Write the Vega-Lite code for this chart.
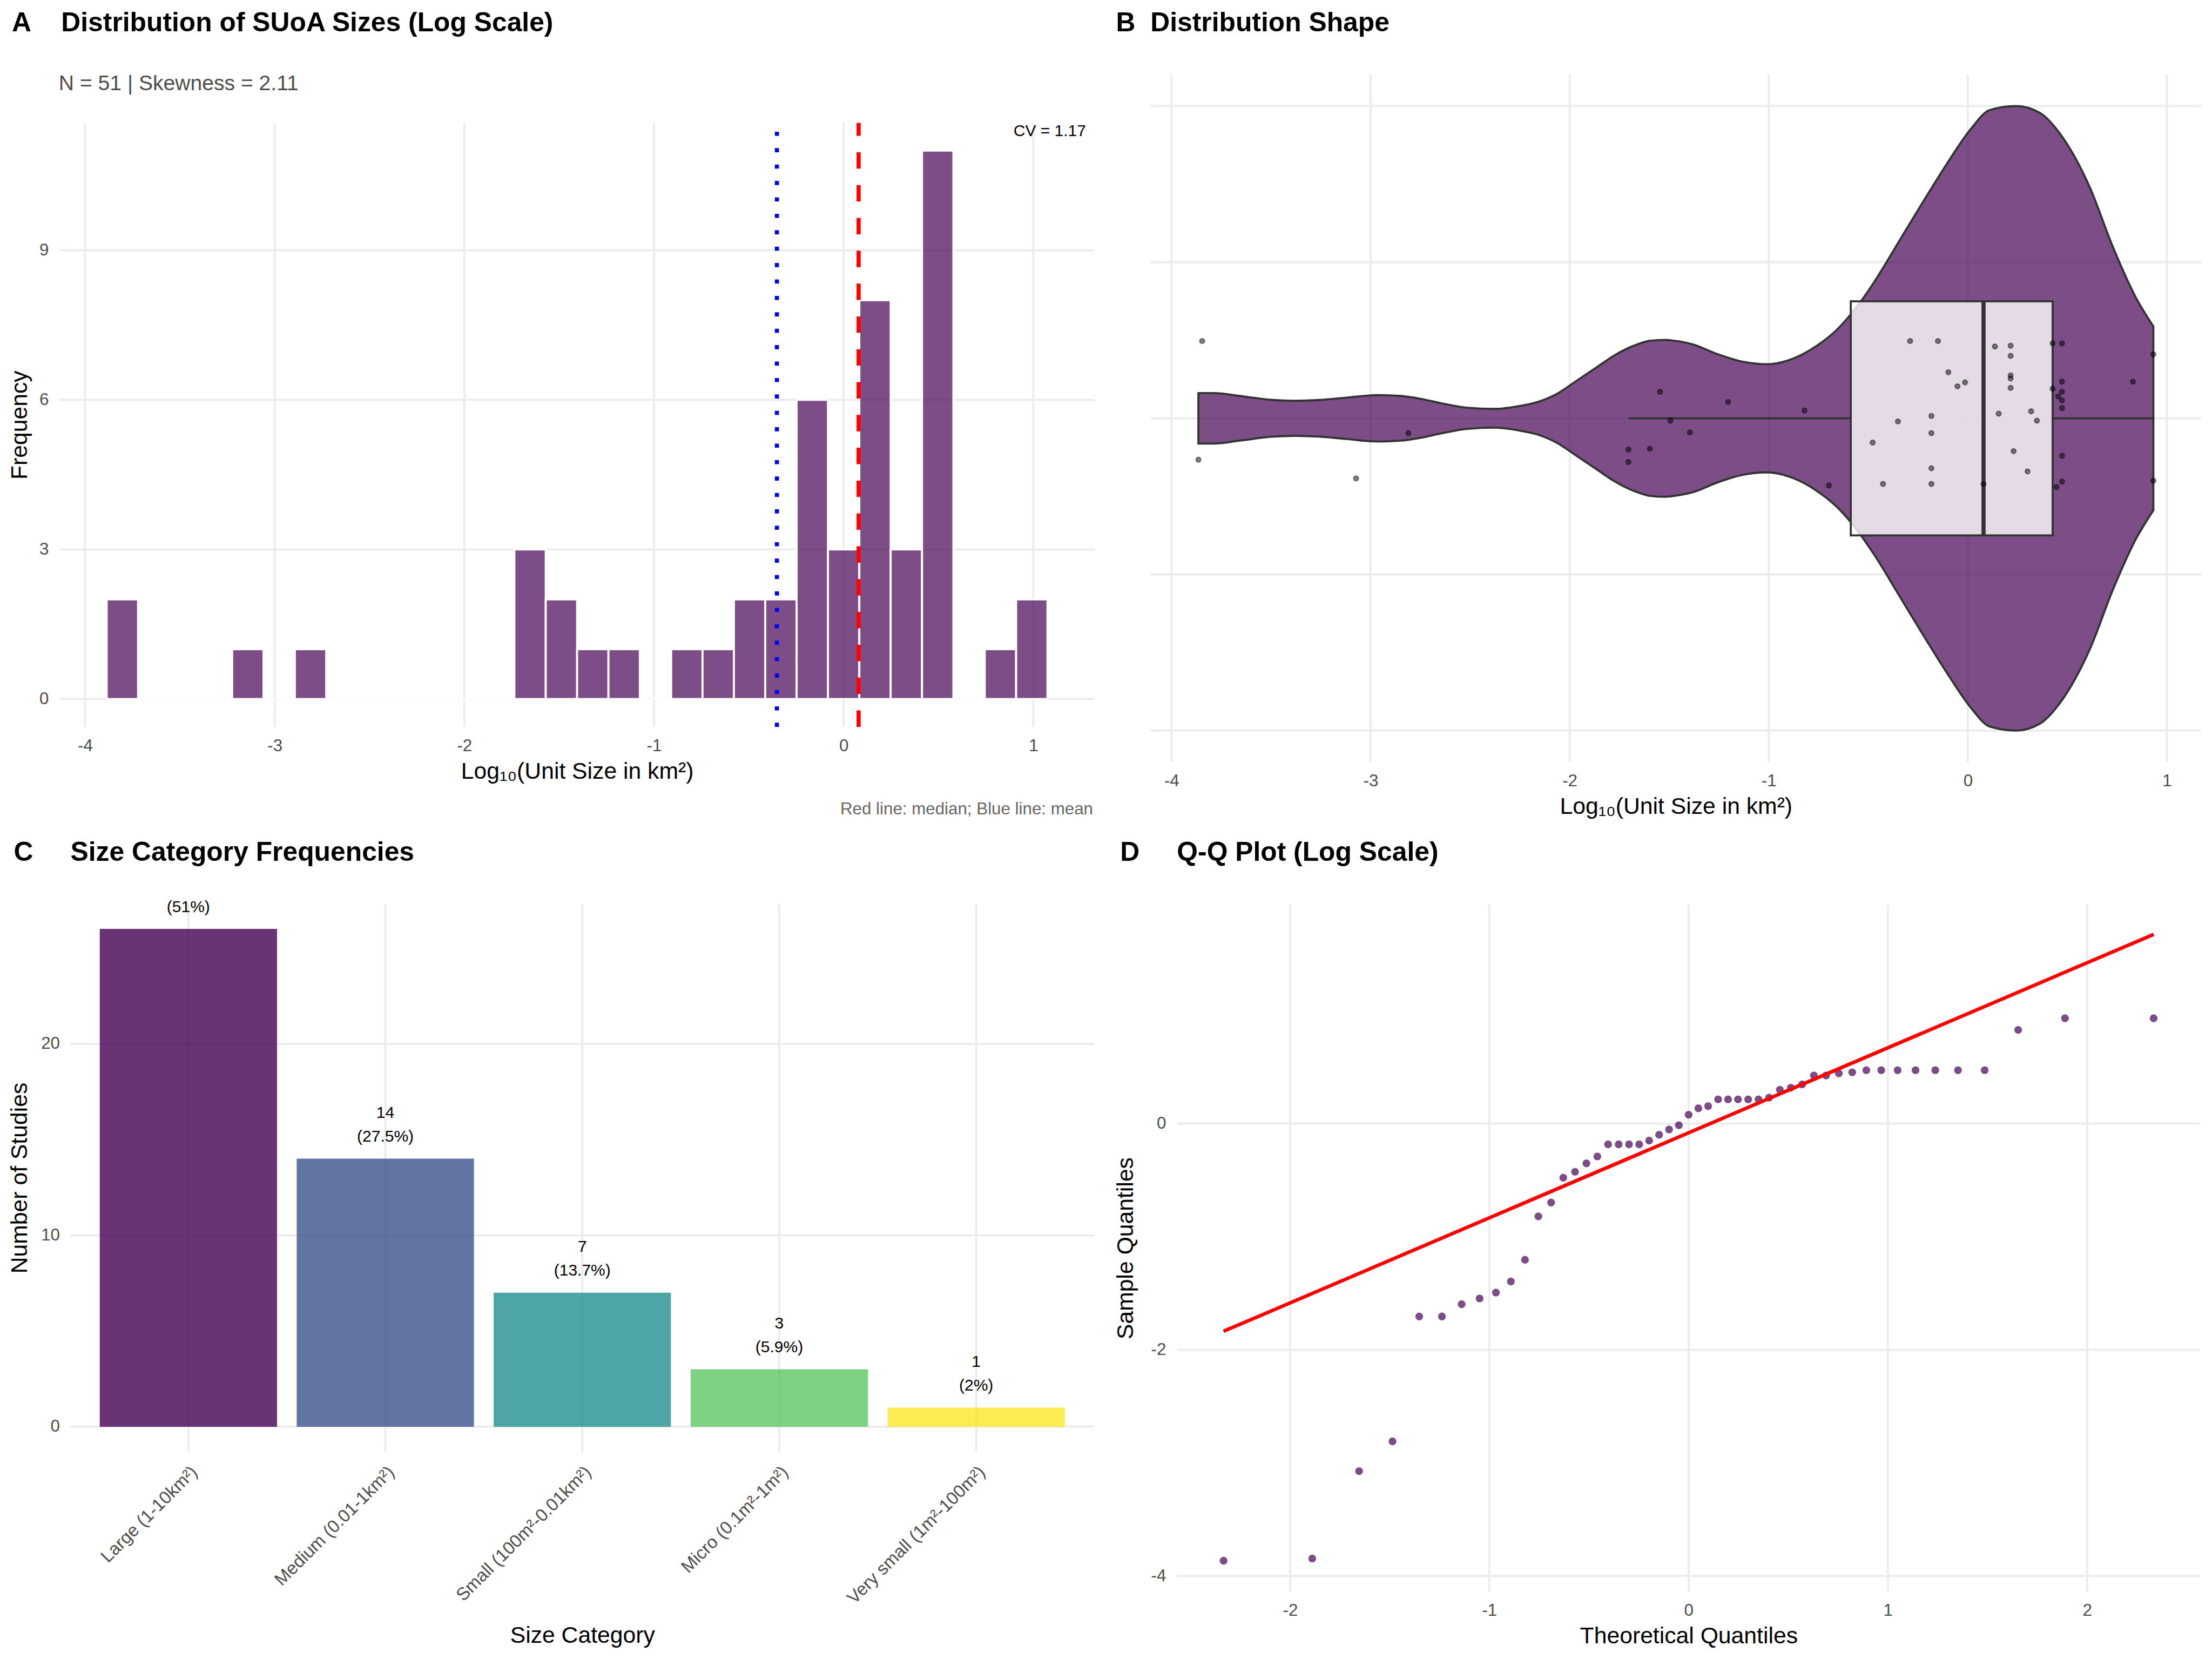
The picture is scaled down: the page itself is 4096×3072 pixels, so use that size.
{
  "$schema": "https://vega.github.io/schema/vega-lite/v6.json",
  "background": "white",
  "padding": 0,
  "datasets": {
    "pts": [
      {"v": -3.865, "t": -2.334, "j": -0.053}, {"v": -3.846, "t": -1.889, "j": 0.099}, {"v": -3.073, "t": -1.654, "j": -0.077},
      {"v": -2.810, "t": -1.486, "j": -0.019}, {"v": -1.705, "t": -1.352, "j": -0.040}, {"v": -1.705, "t": -1.238, "j": -0.056},
      {"v": -1.597, "t": -1.139, "j": -0.039}, {"v": -1.546, "t": -1.049, "j": 0.034}, {"v": -1.494, "t": -0.967, "j": -0.003},
      {"v": -1.396, "t": -0.892, "j": -0.018}, {"v": -1.204, "t": -0.821, "j": 0.021}, {"v": -0.820, "t": -0.754, "j": 0.010},
      {"v": -0.698, "t": -0.690, "j": -0.086}, {"v": -0.478, "t": -0.629, "j": -0.031}, {"v": -0.426, "t": -0.570, "j": -0.084},
      {"v": -0.351, "t": -0.513, "j": -0.004}, {"v": -0.290, "t": -0.458, "j": 0.099}, {"v": -0.183, "t": -0.404, "j": 0.003},
      {"v": -0.183, "t": -0.351, "j": -0.019}, {"v": -0.183, "t": -0.299, "j": -0.064}, {"v": -0.183, "t": -0.248, "j": -0.084},
      {"v": -0.150, "t": -0.198, "j": 0.099}, {"v": -0.098, "t": -0.148, "j": 0.059}, {"v": -0.052, "t": -0.098, "j": 0.041},
      {"v": -0.014, "t": -0.049, "j": 0.046}, {"v": 0.079, "t": 0.000, "j": -0.084}, {"v": 0.136, "t": 0.049, "j": 0.092},
      {"v": 0.155, "t": 0.098, "j": 0.006}, {"v": 0.215, "t": 0.148, "j": 0.093}, {"v": 0.215, "t": 0.198, "j": 0.080},
      {"v": 0.215, "t": 0.248, "j": 0.055}, {"v": 0.215, "t": 0.299, "j": 0.051}, {"v": 0.215, "t": 0.351, "j": 0.039},
      {"v": 0.230, "t": 0.404, "j": -0.042}, {"v": 0.300, "t": 0.458, "j": -0.068}, {"v": 0.318, "t": 0.513, "j": 0.009},
      {"v": 0.347, "t": 0.570, "j": -0.003}, {"v": 0.426, "t": 0.629, "j": 0.096}, {"v": 0.426, "t": 0.690, "j": 0.038},
      {"v": 0.445, "t": 0.754, "j": -0.088}, {"v": 0.454, "t": 0.821, "j": 0.028}, {"v": 0.473, "t": 0.892, "j": 0.096},
      {"v": 0.473, "t": 0.967, "j": 0.047}, {"v": 0.473, "t": 1.049, "j": 0.034}, {"v": 0.473, "t": 1.139, "j": 0.023},
      {"v": 0.473, "t": 1.238, "j": 0.013}, {"v": 0.473, "t": 1.352, "j": -0.048}, {"v": 0.473, "t": 1.486, "j": -0.081},
      {"v": 0.829, "t": 1.654, "j": 0.047}, {"v": 0.932, "t": 1.889, "j": 0.082}, {"v": 0.932, "t": 2.334, "j": -0.080}
    ],
    "hist": [
      {"lo": -3.8856, "hi": -3.7203, "count": 2}, {"lo": -3.7203, "hi": -3.5549, "count": 0}, {"lo": -3.5549, "hi": -3.3896, "count": 0},
      {"lo": -3.3896, "hi": -3.2242, "count": 0}, {"lo": -3.2242, "hi": -3.0589, "count": 1}, {"lo": -3.0589, "hi": -2.8935, "count": 0},
      {"lo": -2.8935, "hi": -2.7282, "count": 1}, {"lo": -2.7282, "hi": -2.5628, "count": 0}, {"lo": -2.5628, "hi": -2.3975, "count": 0},
      {"lo": -2.3975, "hi": -2.2322, "count": 0}, {"lo": -2.2322, "hi": -2.0668, "count": 0}, {"lo": -2.0668, "hi": -1.9015, "count": 0},
      {"lo": -1.9015, "hi": -1.7361, "count": 0}, {"lo": -1.7361, "hi": -1.5708, "count": 3}, {"lo": -1.5708, "hi": -1.4054, "count": 2},
      {"lo": -1.4054, "hi": -1.2401, "count": 1}, {"lo": -1.2401, "hi": -1.0747, "count": 1}, {"lo": -1.0747, "hi": -0.9094, "count": 0},
      {"lo": -0.9094, "hi": -0.7441, "count": 1}, {"lo": -0.7441, "hi": -0.5787, "count": 1}, {"lo": -0.5787, "hi": -0.4134, "count": 2},
      {"lo": -0.4134, "hi": -0.2480, "count": 2}, {"lo": -0.2480, "hi": -0.0827, "count": 6}, {"lo": -0.0827, "hi": 0.0827, "count": 3},
      {"lo": 0.0827, "hi": 0.2480, "count": 8}, {"lo": 0.2480, "hi": 0.4134, "count": 3}, {"lo": 0.4134, "hi": 0.5787, "count": 11},
      {"lo": 0.5787, "hi": 0.7441, "count": 0}, {"lo": 0.7441, "hi": 0.9094, "count": 1}, {"lo": 0.9094, "hi": 1.0747, "count": 2}
    ],
    "violin": [
      {"x": -3.865, "lo": -0.0323, "hi": 0.0323}, {"x": -3.787, "lo": -0.0323, "hi": 0.0323}, {"x": -3.657, "lo": -0.0286, "hi": 0.0286},
      {"x": -3.495, "lo": -0.0236, "hi": 0.0236}, {"x": -3.381, "lo": -0.0224, "hi": 0.0224}, {"x": -3.251, "lo": -0.0236, "hi": 0.0236},
      {"x": -3.121, "lo": -0.0265, "hi": 0.0265}, {"x": -2.959, "lo": -0.0298, "hi": 0.0298}, {"x": -2.845, "lo": -0.0286, "hi": 0.0286},
      {"x": -2.748, "lo": -0.0249, "hi": 0.0249}, {"x": -2.634, "lo": -0.0187, "hi": 0.0187}, {"x": -2.520, "lo": -0.0137, "hi": 0.0137},
      {"x": -2.374, "lo": -0.0120, "hi": 0.0120}, {"x": -2.261, "lo": -0.0153, "hi": 0.0153}, {"x": -2.163, "lo": -0.0207, "hi": 0.0207},
      {"x": -2.066, "lo": -0.0311, "hi": 0.0311}, {"x": -1.968, "lo": -0.0476, "hi": 0.0476}, {"x": -1.871, "lo": -0.0642, "hi": 0.0642},
      {"x": -1.774, "lo": -0.0808, "hi": 0.0808}, {"x": -1.676, "lo": -0.0932, "hi": 0.0932}, {"x": -1.595, "lo": -0.0994, "hi": 0.0994},
      {"x": -1.522, "lo": -0.1005, "hi": 0.1005}, {"x": -1.450, "lo": -0.0985, "hi": 0.0985}, {"x": -1.378, "lo": -0.0944, "hi": 0.0944},
      {"x": -1.263, "lo": -0.0827, "hi": 0.0827}, {"x": -1.126, "lo": -0.0722, "hi": 0.0722}, {"x": -1.012, "lo": -0.0693, "hi": 0.0693},
      {"x": -0.874, "lo": -0.0769, "hi": 0.0769}, {"x": -0.760, "lo": -0.0927, "hi": 0.0927}, {"x": -0.657, "lo": -0.1137, "hi": 0.1137},
      {"x": -0.554, "lo": -0.1440, "hi": 0.1440}, {"x": -0.462, "lo": -0.1779, "hi": 0.1779}, {"x": -0.348, "lo": -0.2257, "hi": 0.2257},
      {"x": -0.234, "lo": -0.2735, "hi": 0.2735}, {"x": -0.108, "lo": -0.3249, "hi": 0.3249}, {"x": 0.018, "lo": -0.3716, "hi": 0.3716},
      {"x": 0.110, "lo": -0.3949, "hi": 0.3949}, {"x": 0.243, "lo": -0.4000, "hi": 0.4000}, {"x": 0.361, "lo": -0.3914, "hi": 0.3914},
      {"x": 0.476, "lo": -0.3599, "hi": 0.3599}, {"x": 0.613, "lo": -0.2957, "hi": 0.2957}, {"x": 0.728, "lo": -0.2199, "hi": 0.2199},
      {"x": 0.842, "lo": -0.1557, "hi": 0.1557}, {"x": 0.932, "lo": -0.1178, "hi": 0.1178}
    ],
    "cats": [
      {"cat": "Large (1-10km²)", "n": 26, "cnt": "26", "pct": "(51%)"},
      {"cat": "Medium (0.01-1km²)", "n": 14, "cnt": "14", "pct": "(27.5%)"},
      {"cat": "Small (100m²-0.01km²)", "n": 7, "cnt": "7", "pct": "(13.7%)"},
      {"cat": "Micro (0.1m²-1m²)", "n": 3, "cnt": "3", "pct": "(5.9%)"},
      {"cat": "Very small (1m²-100m²)", "n": 1, "cnt": "1", "pct": "(2%)"}
    ]
  },
  "config": {
    "view": {"stroke": null},
    "font": "Liberation Sans",
    "axis": {
      "domain": false, "ticks": false, "grid": false,
      "labelFont": "Liberation Sans", "labelFontSize": 31.3, "labelColor": "#4D4D4D", "labelLimit": 2000,
      "titleFont": "Liberation Sans", "titleFontSize": 42.7, "titleFontWeight": "normal", "titleColor": "#000000",
      "labelFlush": false, "labelOverlap": false, "labelBound": false, "minExtent": 0, "maxExtent": 2000, "labelPadding": 20
    },
    "title": {
      "anchor": "start", "frame": "group", "font": "Liberation Sans", "fontSize": 49.8, "fontWeight": "bold", "color": "#000000",
      "subtitleFont": "Liberation Sans", "subtitleFontSize": 39.1, "subtitleFontWeight": "normal", "subtitleColor": "#4D4D4D", "subtitlePadding": 67.2
    }
  },
  "columns": 2,
  "spacing": 0,
  "bounds": "flush",
  "concat": [
    {
      "width": 2048, "height": 1536,
      "title": {"text": "A\u00a0\u00a0\u00a0\u00a0Distribution of SUoA Sizes (Log Scale)", "subtitle": "\u200b\u00a0\u00a0\u00a0\u00a0\u00a0\u00a0\u00a0\u00a0N = 51 | Skewness = 2.11", "dx": 22, "offset": -176.3},
      "layer": [
        {
          "data": {"values": [{"g": -4}, {"g": -3}, {"g": -2}, {"g": -1}, {"g": 0}, {"g": 1}]},
          "mark": {"type": "rule", "stroke": "#EBEBEB", "strokeWidth": 3.8},
          "encoding": {
            "x": {"field": "g", "type": "quantitative"},
            "y": {"datum": -0.558, "type": "quantitative"},
            "y2": {"datum": 11.557}
          }
        },
        {
          "data": {"values": [{"g": 0}, {"g": 3}, {"g": 6}, {"g": 9}]},
          "mark": {"type": "rule", "stroke": "#EBEBEB", "strokeWidth": 3.8},
          "encoding": {
            "y": {"field": "g", "type": "quantitative"},
            "x": {"datum": -4.1336, "type": "quantitative"},
            "x2": {"datum": 1.3227}
          }
        },
        {
          "data": {"name": "hist"},
          "mark": {"type": "rect", "fill": "#440154", "fillOpacity": 0.7, "stroke": "#FFFFFF", "strokeWidth": 3.8},
          "encoding": {
            "x": {"field": "lo", "type": "quantitative",
                  "scale": {"domain": [-4.1336, 1.3227], "range": [110.5, 2026.7], "nice": false, "zero": false},
                  "axis": {"values": [-4, -3, -2, -1, 0, 1], "format": "d", "offset": -190.1, "title": "Log₁₀(Unit Size in km²)", "titlePadding": 10.4, "labelExpr": "replace(datum.label, '\u2212', '-')"}},
            "x2": {"field": "hi"},
            "y": {"field": "count", "type": "quantitative",
                  "scale": {"domain": [-0.558, 11.557], "range": [1345.9, 227.4], "nice": false, "zero": false},
                  "axis": {"values": [0, 3, 6, 9], "format": "d", "offset": -110.5, "title": "Frequency", "labelPadding": 20.6, "titlePadding": 13.5}},
            "y2": {"datum": 0}
          }
        },
        {
          "data": {"values": [{"stat": "mean", "m": -0.352}]},
          "mark": {"type": "rule", "stroke": "#0000FF", "strokeWidth": 7.6, "strokeDash": [7.6, 22.8], "strokeCap": "butt"},
          "encoding": {
            "x": {"field": "m", "type": "quantitative"},
            "y": {"datum": -0.558, "type": "quantitative"},
            "y2": {"datum": 11.557}
          }
        },
        {
          "data": {"values": [{"stat": "median", "m": 0.079}]},
          "mark": {"type": "rule", "stroke": "#FF0000", "strokeWidth": 7.6, "strokeDash": [30.4, 30.4], "strokeCap": "butt"},
          "encoding": {
            "x": {"field": "m", "type": "quantitative"},
            "y": {"datum": -0.558, "type": "quantitative"},
            "y2": {"datum": 11.557}
          }
        },
        {
          "data": {"values": [{"label": "CV = 1.17", "x": 1.278, "y": 11.293}]},
          "mark": {"type": "text", "align": "right", "baseline": "alphabetic", "fontSize": 30, "color": "#000000"},
          "encoding": {
            "x": {"field": "x", "type": "quantitative"},
            "y": {"field": "y", "type": "quantitative"},
            "text": {"field": "label"}
          }
        },
        {
          "data": {"values": [{"label": "Red line: median; Blue line: mean", "x": 1.315, "y": -2.314}]},
          "mark": {"type": "text", "align": "right", "baseline": "alphabetic", "fontSize": 31.3, "color": "#666666"},
          "encoding": {
            "x": {"field": "x", "type": "quantitative"},
            "y": {"field": "y", "type": "quantitative"},
            "text": {"field": "label"}
          }
        }
      ]
    },
    {
      "width": 2048, "height": 1536,
      "title": {"text": "B\u00a0\u00a0Distribution Shape", "dx": 18.6, "offset": -69},
      "layer": [
        {
          "data": {"values": [{"g": -4}, {"g": -3}, {"g": -2}, {"g": -1}, {"g": 0}, {"g": 1}]},
          "mark": {"type": "rule", "stroke": "#EBEBEB", "strokeWidth": 3.8},
          "encoding": {
            "x": {"field": "g", "type": "quantitative"},
            "y": {"datum": -0.44, "type": "quantitative", "axis": null},
            "y2": {"datum": 0.44}
          }
        },
        {
          "data": {"values": [{"g": -0.4}, {"g": -0.2}, {"g": 0}, {"g": 0.2}, {"g": 0.4}]},
          "mark": {"type": "rule", "stroke": "#EBEBEB", "strokeWidth": 3.8},
          "encoding": {
            "y": {"field": "g", "type": "quantitative", "axis": null},
            "x": {"datum": -4.105, "type": "quantitative"},
            "x2": {"datum": 1.172}
          }
        },
        {
          "data": {"name": "violin"},
          "mark": {"type": "area", "fill": "#440154", "fillOpacity": 0.7, "stroke": "#333333", "strokeWidth": 3.8, "interpolate": "monotone"},
          "encoding": {
            "x": {"field": "x", "type": "quantitative",
                  "scale": {"domain": [-4.105, 1.172], "range": [82.6, 2027.9], "nice": false, "zero": false},
                  "axis": {"values": [-4, -3, -2, -1, 0, 1], "format": "d", "offset": -125.4, "title": "Log₁₀(Unit Size in km²)", "titlePadding": 10.4, "labelExpr": "replace(datum.label, '\u2212', '-')"}},
            "y": {"field": "lo", "type": "quantitative",
                  "scale": {"domain": [-0.44, 0.44], "range": [1410.6, 138.6], "nice": false, "zero": false},
                  "axis": null},
            "y2": {"field": "hi"}
          }
        },
        {
          "data": {"values": [{"q1": -0.588, "q3": 0.426}]},
          "mark": {"type": "rect", "fill": "#FFFFFF", "fillOpacity": 0.8, "stroke": "#333333", "strokeWidth": 3.8},
          "encoding": {
            "x": {"field": "q1", "type": "quantitative"},
            "x2": {"field": "q3"},
            "y": {"datum": -0.15, "type": "quantitative", "axis": null},
            "y2": {"datum": 0.15}
          }
        },
        {
          "data": {"values": [{"a": -1.705, "b": -0.588}, {"a": 0.426, "b": 0.932}]},
          "mark": {"type": "rule", "stroke": "#333333", "strokeWidth": 3.8},
          "encoding": {
            "x": {"field": "a", "type": "quantitative"},
            "x2": {"field": "b"},
            "y": {"datum": 0, "type": "quantitative", "axis": null}
          }
        },
        {
          "data": {"values": [{"m": 0.079}]},
          "mark": {"type": "rule", "stroke": "#333333", "strokeWidth": 7.6},
          "encoding": {
            "x": {"field": "m", "type": "quantitative"},
            "y": {"datum": -0.15, "type": "quantitative", "axis": null},
            "y2": {"datum": 0.15}
          }
        },
        {
          "data": {"name": "pts"},
          "mark": {"type": "circle", "size": 85, "fill": "#000000", "fillOpacity": 0.5, "stroke": "#000000", "strokeOpacity": 0.45, "strokeWidth": 2},
          "encoding": {
            "x": {"field": "v", "type": "quantitative"},
            "y": {"field": "j", "type": "quantitative", "axis": null}
          }
        }
      ]
    },
    {
      "width": 2048, "height": 1536,
      "title": {"text": "C\u00a0\u00a0\u00a0\u00a0\u00a0Size Category Frequencies", "dx": 25.4, "offset": -69},
      "resolve": {"scale": {"x": "independent"}, "axis": {"x": "independent"}},
      "layer": [
        {
          "data": {"values": [{"g": 0}, {"g": 10}, {"g": 20}]},
          "mark": {"type": "rule", "stroke": "#EBEBEB", "strokeWidth": 3.8},
          "encoding": {
            "y": {"field": "g", "type": "quantitative"},
            "x": {"datum": 0, "type": "quantitative", "scale": {"domain": [0, 1], "range": [130, 2026.5], "nice": false, "zero": false}, "axis": null},
            "x2": {"datum": 1}
          }
        },
        {
          "layer": [
            {
              "data": {"name": "cats"},
              "mark": {"type": "rule", "stroke": "#EBEBEB", "strokeWidth": 3.8},
              "encoding": {
                "x": {"field": "cat", "type": "nominal", "sort": null},
                "y": {"datum": -1.3, "type": "quantitative"},
                "y2": {"datum": 27.3}
              }
            },
            {
              "data": {"name": "cats"},
              "mark": {"type": "bar", "fillOpacity": 0.8},
              "encoding": {
                "x": {"field": "cat", "type": "nominal", "sort": null,
                      "scale": {"range": [130, 2026.5], "paddingInner": 0.1, "paddingOuter": 0.15},
                      "axis": {"offset": -384, "title": "Size Category", "labelAngle": -45, "labelAlign": "right", "labelBaseline": "top", "labelFontSize": 33, "labelPadding": 21, "labelOffset": 0, "labelLimit": 2000, "titlePadding": 31}},
                "y": {"field": "n", "type": "quantitative",
                      "scale": {"domain": [-1.3, 27.3], "range": [1152, 138], "nice": false, "zero": false},
                      "axis": {"values": [0, 10, 20], "format": "d", "offset": -130, "title": "Number of Studies", "labelPadding": 19.5, "titlePadding": 16.7}},
                "y2": {"datum": 0},
                "color": {"field": "cat", "type": "nominal", "sort": null,
                          "scale": {"domain": ["Large (1-10km²)", "Medium (0.01-1km²)", "Small (100m²-0.01km²)", "Micro (0.1m²-1m²)", "Very small (1m²-100m²)"],
                                    "range": ["#440154", "#3B528B", "#21908C", "#5DC863", "#FDE725"]},
                          "legend": null}
              }
            },
            {
              "data": {"name": "cats"},
              "mark": {"type": "text", "align": "center", "baseline": "middle", "fontSize": 30, "dy": -40.4, "color": "#000000"},
              "encoding": {
                "x": {"field": "cat", "type": "nominal", "sort": null},
                "y": {"field": "n", "type": "quantitative"},
                "text": {"field": "pct"}
              }
            },
            {
              "data": {"name": "cats"},
              "transform": [{"filter": "datum.n < 25"}],
              "mark": {"type": "text", "align": "center", "baseline": "middle", "fontSize": 30, "dy": -84.4, "color": "#000000"},
              "encoding": {
                "x": {"field": "cat", "type": "nominal", "sort": null},
                "y": {"field": "n", "type": "quantitative"},
                "text": {"field": "cnt"}
              }
            }
          ]
        }
      ]
    },
    {
      "width": 2048, "height": 1536,
      "title": {"text": "D\u00a0\u00a0\u00a0\u00a0\u00a0Q-Q Plot (Log Scale)", "dx": 26.2, "offset": -69},
      "layer": [
        {
          "data": {"values": [{"g": -2}, {"g": -1}, {"g": 0}, {"g": 1}, {"g": 2}]},
          "mark": {"type": "rule", "stroke": "#EBEBEB", "strokeWidth": 3.8},
          "encoding": {
            "x": {"field": "g", "type": "quantitative"},
            "y": {"datum": -4.136, "type": "quantitative"},
            "y2": {"datum": 1.936}
          }
        },
        {
          "data": {"values": [{"g": -4}, {"g": -2}, {"g": 0}]},
          "mark": {"type": "rule", "stroke": "#EBEBEB", "strokeWidth": 3.8},
          "encoding": {
            "y": {"field": "g", "type": "quantitative"},
            "x": {"datum": -2.567, "type": "quantitative"},
            "x2": {"datum": 2.567}
          }
        },
        {
          "data": {"name": "pts"},
          "mark": {"type": "circle", "size": 180, "fill": "#440154", "fillOpacity": 0.7, "stroke": "#440154", "strokeOpacity": 0.35, "strokeWidth": 1.5},
          "encoding": {
            "x": {"field": "t", "type": "quantitative",
                  "scale": {"domain": [-2.567, 2.567], "range": [131.7, 2025.9], "nice": false, "zero": false},
                  "axis": {"values": [-2, -1, 0, 1, 2], "format": "d", "offset": -125.3, "title": "Theoretical Quantiles", "titlePadding": 10.4, "labelExpr": "replace(datum.label, '\u2212', '-')"}},
            "y": {"field": "v", "type": "quantitative",
                  "scale": {"domain": [-4.136, 1.936], "range": [1410.7, 139.3], "nice": false, "zero": false},
                  "axis": {"values": [-4, -2, 0], "format": "d", "offset": -131.7, "title": "Sample Quantiles", "labelPadding": 20.8, "titlePadding": 24.1, "labelExpr": "replace(datum.label, '\u2212', '-')"}}
          }
        },
        {
          "data": {"values": [{"tx": -2.334, "sy": -1.836}, {"tx": 2.334, "sy": 1.674}]},
          "mark": {"type": "line", "stroke": "#FF0000", "strokeWidth": 6.5},
          "encoding": {
            "x": {"field": "tx", "type": "quantitative"},
            "y": {"field": "sy", "type": "quantitative"}
          }
        }
      ]
    }
  ]
}
